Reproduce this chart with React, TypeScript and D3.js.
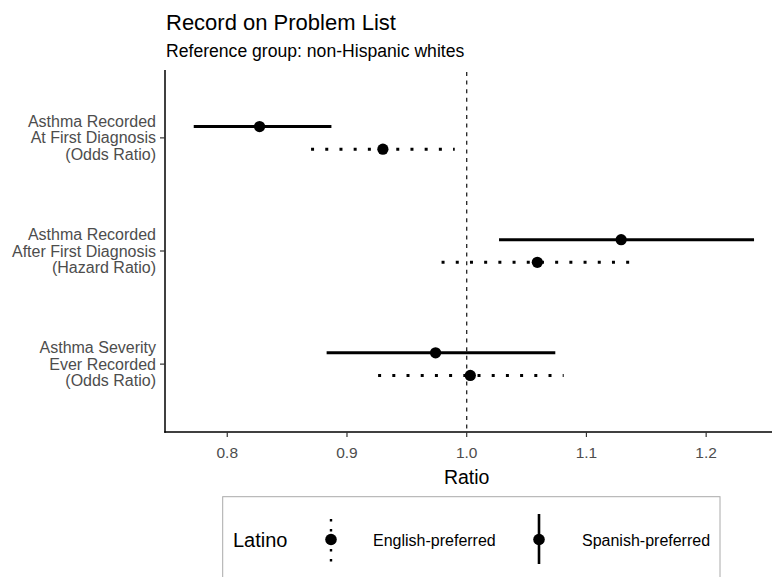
import React from "react";
import * as d3 from "d3";

const categories = [
  ["Asthma Recorded", "At First Diagnosis", "(Odds Ratio)"],
  ["Asthma Recorded", "After First Diagnosis", "(Hazard Ratio)"],
  ["Asthma Severity", "Ever Recorded", "(Odds Ratio)"],
];
const categoryKeys = ["first", "after", "severity"];

const spanishEst = [0.827, 1.129, 0.974];
const spanishLo = [0.772, 1.027, 0.883];
const spanishHi = [0.887, 1.240, 1.074];

const englishEst = [0.930, 1.059, 1.003];
const englishLo = [0.870, 0.979, 0.926];
const englishHi = [0.990, 1.136, 1.081];

const xTicks = [0.8, 0.9, 1.0, 1.1, 1.2];
const refValue = 1.0;

const W = 772;
const H = 577;
const left = 165;
const right = 772;
const top = 70;
const bottom = 432;
const dodge = 11.3;
const font = "'Liberation Sans', Arial, sans-serif";

export default function App() {
  const x = d3.scaleLinear().domain([0.748, 1.255]).range([left, right]);
  const y = d3.scalePoint<string>().domain(categoryKeys).range([top, bottom]).padding(0.6);

  const dotted = "3 11.2";

  return (
    <svg
      width={W}
      height={H}
      style={{ position: "fixed", left: 0, top: 0, background: "#fff" }}
      fontFamily={font}
    >
      <rect x={0} y={0} width={W} height={H} fill="#fff" />
      {/* title */}
      <text x={166} y={30} fontSize={22} fill="#000">Record on Problem List</text>
      <text x={166} y={57} fontSize={17.6} fill="#000">Reference group: non-Hispanic whites</text>

      {/* reference line */}
      <line
        x1={x(refValue)}
        x2={x(refValue)}
        y1={top + 2}
        y2={bottom}
        stroke="#222"
        strokeWidth={1.3}
        strokeDasharray="4 4.6"
      />

      {/* marks */}
      {categoryKeys.map((k, i) => {
        const cy = y(k) as number;
        return (
          <g key={k}>
            <line x1={x(spanishLo[i])} x2={x(spanishHi[i])} y1={cy - dodge} y2={cy - dodge} stroke="#000" strokeWidth={3} />
            <circle cx={x(spanishEst[i])} cy={cy - dodge} r={5.6} fill="#000" />
            <line
              x1={x(englishLo[i])}
              x2={x(englishHi[i])}
              y1={cy + dodge}
              y2={cy + dodge}
              stroke="#000"
              strokeWidth={3}
              strokeDasharray={dotted}
            />
            <circle cx={x(englishEst[i])} cy={cy + dodge} r={5.6} fill="#000" />
          </g>
        );
      })}

      {/* axes */}
      <line x1={left} x2={left} y1={top} y2={bottom + 0.75} stroke="#000" strokeWidth={1.5} />
      <line x1={left - 0.75} x2={right} y1={bottom} y2={bottom} stroke="#000" strokeWidth={1.5} />

      {xTicks.map((t) => (
        <g key={t}>
          <line x1={x(t)} x2={x(t)} y1={bottom} y2={bottom + 5} stroke="#333" strokeWidth={1.2} />
          <text x={x(t)} y={457.5} fontSize={15.5} fill="#4d4d4d" textAnchor="middle">
            {d3.format(".1f")(t)}
          </text>
        </g>
      ))}
      <text x={x(1.0)} y={483.5} fontSize={19.5} fill="#000" textAnchor="middle">Ratio</text>

      {categoryKeys.map((k, i) => {
        const cy = y(k) as number;
        return (
          <g key={k}>
            <line x1={left - 5} x2={left} y1={cy} y2={cy} stroke="#333" strokeWidth={1.2} />
            {categories[i].map((ln, j) => (
              <text
                key={j}
                x={156}
                y={cy + (j - 1) * 16.7 + 5.6}
                fontSize={16}
                fill="#4d4d4d"
                textAnchor="end"
              >
                {ln}
              </text>
            ))}
          </g>
        );
      })}

      {/* legend */}
      <rect x={222.7} y={496.7} width={497.3} height={100} fill="#fff" stroke="#aaa" strokeWidth={1} />
      <text x={233} y={547} fontSize={20} fill="#000">Latino</text>
      <line x1={331} x2={331} y1={519} y2={565} stroke="#000" strokeWidth={2.4} strokeDasharray="2.4 7.6" />
      <circle cx={331} cy={539.5} r={5.8} fill="#000" />
      <text x={373} y={545.5} fontSize={16} fill="#000">English-preferred</text>
      <line x1={539} x2={539} y1={514} y2={564} stroke="#000" strokeWidth={2.6} />
      <circle cx={539} cy={539.5} r={5.8} fill="#000" />
      <text x={582} y={545.5} fontSize={16} fill="#000">Spanish-preferred</text>
    </svg>
  );
}
